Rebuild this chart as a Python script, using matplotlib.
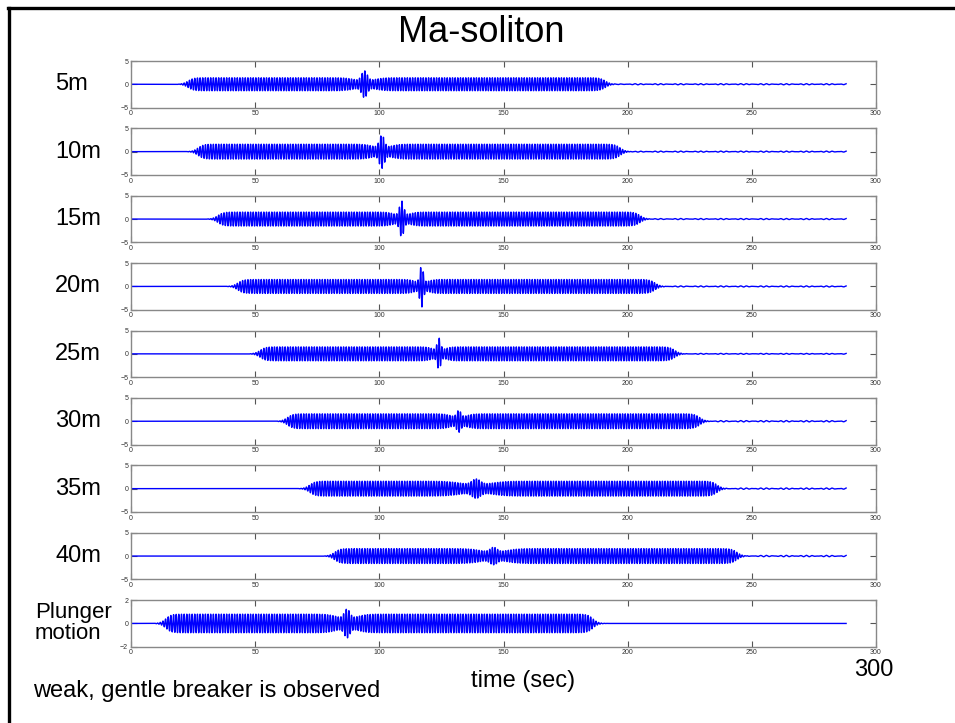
import numpy as np
import matplotlib.pyplot as plt
from matplotlib.lines import Line2D

plt.rcParams["font.family"] = ["Liberation Sans", "DejaVu Sans"]

# wave gauges along the flume, last row is the wave maker
gauge_labels = ["5m", "10m", "15m", "20m", "25m", "30m", "35m", "40m", "Plunger\nmotion"]
# wave group arrival / departure (s), midpoint of the ramps
group_start = [23, 27, 35, 43, 52, 63, 72, 82, 14]
group_end = [191, 197, 205, 211, 219, 229, 236, 244, 186]
# time of the Ma-soliton focusing peak (s)
soliton_time = [94, 101, 109, 117, 124, 132, 139, 146, 87]
soliton_width = [1.6, 1.4, 1.2, 1.0, 1.0, 1.2, 2.4, 2.0, 1.6]
# background carrier amplitude and peak amplitude (cm)
base_amp = [1.4, 1.6, 1.5, 1.5, 1.5, 1.6, 1.6, 1.6, 0.8]
peak_amp = [2.9, 3.6, 3.9, 4.5, 3.4, 2.4, 2.1, 1.9, 1.25]
residual_amp = [0.12, 0.12, 0.12, 0.12, 0.1, 0.15, 0.15, 0.15, 0.0]
y_limits = [5, 5, 5, 5, 5, 5, 5, 5, 2]
x_ticks = [0, 50, 100, 150, 200, 250, 300]
record_end = 288
carrier_period = 1.07
sample_dt = 0.04


def gauge_signal(t, k):
    ramp = 2.2
    window = 0.25 * (1 + np.tanh((t - group_start[k]) / ramp)) * (1 + np.tanh((group_end[k] - t) / ramp))
    dt = t - soliton_time[k]
    w = soliton_width[k]
    # background drops away on both sides of the focused peak
    envelope = base_amp[k] * (1 - 0.45 * np.exp(-(dt / (3.5 * w)) ** 2))
    envelope = envelope + (peak_amp[k] - 0.55 * base_amp[k]) * np.exp(-(dt / w) ** 2)
    carrier = np.cos(2 * np.pi * t / carrier_period)
    tail = 0.5 * (1 + np.tanh((t - group_end[k] - 5) / 3.0))
    residual = residual_amp[k] * tail * np.sin(2 * np.pi * t / 2.3) * np.cos(2 * np.pi * t / 17.0)
    return envelope * window * carrier + residual


fig = plt.figure(figsize=(9.55, 7.23), dpi=100)
W, H = 955.0, 723.0

ax_left = 131 / W
ax_width = (876 - 131) / W
first_top = 61.0
row_step = 67.4
ax_height_px = 46.5

t = np.arange(0, record_end, sample_dt)

for k, label in enumerate(gauge_labels):
    top = first_top + row_step * k
    ax = fig.add_axes([ax_left, 1 - (top + ax_height_px) / H, ax_width, ax_height_px / H])
    ax.plot(t, gauge_signal(t, k), color="#0000ff", linewidth=1.0)
    lim = y_limits[k]
    ax.set_xlim(0, 300)
    ax.set_ylim(-lim, lim)
    ax.set_xticks(x_ticks)
    ax.set_yticks([-lim, 0, lim])
    ax.tick_params(direction="in", top=True, right=True, length=4, width=0.8,
                   labelsize=5, colors="#555555", pad=2, labelcolor="#333333")
    for sp in ax.spines.values():
        sp.set_color("#888888")
        sp.set_linewidth(1.0)

    yc = 1 - (top + ax_height_px / 2) / H
    if k < len(gauge_labels) - 1:
        fig.text(55 / W, yc, label, fontsize=17, ha="left", va="center")
    else:
        fig.text(35 / W, yc, label, fontsize=16, ha="left", va="center", linespacing=1.0)

fig.text(481 / W, 1 - 33 / H, "Ma-soliton", fontsize=26, ha="center", va="center")
fig.text(523 / W, 1 - 681 / H, "time (sec)", fontsize=17, ha="center", va="center")
fig.text(874 / W, 1 - 670 / H, "300", fontsize=17, ha="center", va="center")
fig.text(33 / W, 1 - 691 / H, "weak, gentle breaker is observed", fontsize=17, ha="left", va="center")

# slide frame along the top and left edges
fig.add_artist(Line2D([9 / W, 9 / W], [0, 1 - 8 / H], color="black", linewidth=2.4))
fig.add_artist(Line2D([8 / W, 1], [1 - 8 / H, 1 - 8 / H], color="black", linewidth=2.4))

fig.savefig("out.png", dpi=100)
